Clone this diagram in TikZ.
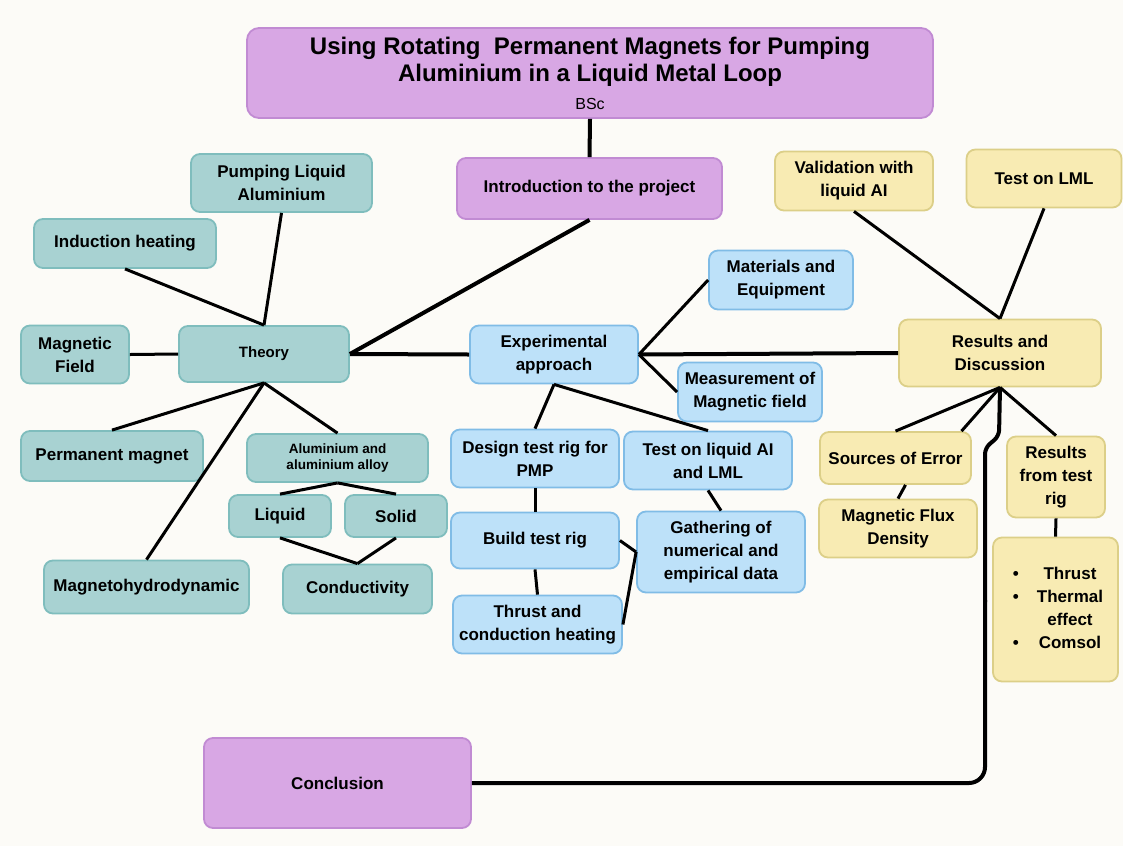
\documentclass[tikz,border=0pt]{standalone}
\usepackage{fontspec}
\setmainfont{Liberation Sans}
\definecolor{bg}{HTML}{FCFBF7}
\definecolor{purpf}{HTML}{D8A7E4}
\definecolor{purpd}{HTML}{C18BD3}
\definecolor{tealf}{HTML}{A8D2D2}
\definecolor{teald}{HTML}{7FBDBD}
\definecolor{bluef}{HTML}{BDE1F9}
\definecolor{blued}{HTML}{80BCE6}
\definecolor{yelf}{HTML}{F8EBB3}
\definecolor{yeld}{HTML}{DCCF88}
\begin{document}
\begin{tikzpicture}[x=1pt,y=-1pt,
  sz/.style 2 args={minimum width=#1pt,minimum height=#2pt},
  base/.style={draw, rounded corners=9pt, line width=1.8pt, align=center, inner sep=0pt,
    font=\fontsize{17}{23}\selectfont\bfseries},
  purpbox/.style={base, fill=purpf, draw=purpd},
  tealbox/.style={base, fill=tealf, draw=teald},
  bluebox/.style={base, fill=bluef, draw=blued},
  yelbox/.style={base, fill=yelf, draw=yeld},
  conn/.style={line width=3pt, black},
  mainconn/.style={line width=4pt, black}]
\useasboundingbox (0,0) rectangle (1123,846);
\fill[bg] (0,0) rectangle (1123,846);

% purple
\node[purpbox, sz={686}{90}, rounded corners=12pt, font=\fontsize{24}{27}\selectfont\bfseries] (title) at (590,73)
  {Using Rotating~ Permanent Magnets for Pumping\\Aluminium in a Liquid Metal Loop\\[1pt]{\fontsize{16}{20}\selectfont\mdseries BSc}};
\node[purpbox, sz={265}{61}] (intro) at (589.5,188.5) {Introduction to the project};
\node[purpbox, sz={267}{90}] (conc) at (337.5,783) {Conclusion};

% teal
\node[tealbox, sz={181}{58}] (pump) at (281.5,183) {Pumping Liquid\\Aluminium};
\node[tealbox, sz={182}{49}] (ind) at (125,243.5) {Induction heating};
\node[tealbox, sz={108}{58}] (mf) at (75,354.5) {Magnetic\\Field};
\node[tealbox, sz={170}{56}, font=\fontsize{15}{19}\selectfont\bfseries] (theory) at (264,354) {Theory};
\node[tealbox, sz={182}{50}] (pm) at (112,456) {Permanent magnet};
\node[tealbox, sz={181}{48}, font=\fontsize{13.5}{16}\selectfont\bfseries] (alu) at (337.5,458) {Aluminium and\\aluminium alloy};
\node[tealbox, sz={102}{42}] (liq) at (280,516) {Liquid};
\node[tealbox, sz={102}{42}] (sol) at (396,516) {Solid};
\node[tealbox, sz={205}{53}] (mhd) at (146.5,587) {Magnetohydrodynamic};
\node[tealbox, sz={149}{49}] (cond) at (357.5,589) {Conductivity};

% blue
\node[bluebox, sz={144}{59}] (mat) at (781,280) {Materials and\\Equipment};
\node[bluebox, sz={168}{58}] (exp) at (554,354.5) {Experimental\\approach};
\node[bluebox, sz={144}{59}] (meas) at (750,392) {Measurement of\\Magnetic field};
\node[bluebox, sz={168}{58}] (design) at (535,458.5) {Design test rig for\\PMP};
\node[bluebox, sz={168}{58}] (testl) at (708,460.5) {Test on liquid AI\\and LML};
\node[bluebox, sz={168}{56}] (build) at (535,540.5) {Build test rig};
\node[bluebox, sz={168}{81}] (gath) at (721,552) {Gathering of\\numerical and\\empirical data};
\node[bluebox, sz={169}{58}] (thr) at (537.5,624.5) {Thrust and\\conduction heating};

% yellow
\node[yelbox, sz={158}{59}] (val) at (854,181) {Validation with\\liquid AI};
\node[yelbox, sz={155}{58}] (lml) at (1044,178.5) {Test on LML};
\node[yelbox, sz={202}{67}] (res) at (1000,353) {Results and\\Discussion};
\node[yelbox, sz={151}{52}] (src) at (895.5,458) {Sources of Error};
\node[yelbox, sz={158}{58}] (mfd) at (898,528.5) {Magnetic Flux\\Density};
\node[yelbox, sz={98}{81}] (rft) at (1056,477) {Results\\from test\\rig};
\node[yelbox, sz={125}{144}] (bul) at (1055.5,609.5)
  {\begin{tabular}{@{}l@{\hskip 18pt}c@{\hskip -5pt}}
   \textbullet & Thrust\\
   \textbullet & Thermal\\
               & effect\\
   \textbullet & Comsol
   \end{tabular}};

% connectors
\draw[mainconn] (title.south) -- (intro.north);
\draw[mainconn] (intro.south) -- (theory.east);
\draw[mainconn] (theory.east) -- (exp.west);
\draw[mainconn] (exp.east) -- (res.west);

\draw[conn] (theory.north) -- (pump.south);
\draw[conn] (theory.north) -- (ind.south);
\draw[conn] (mf.east) -- (theory.west);
\draw[conn] (theory.south) -- (pm.north);
\draw[conn] (theory.south) -- (mhd.north);
\draw[conn] (theory.south) -- (alu.north);
\draw[conn] (alu.south) -- (liq.north);
\draw[conn] (alu.south) -- (sol.north);
\draw[conn] (liq.south) -- (cond.north);
\draw[conn] (sol.south) -- (cond.north);

\draw[conn] (exp.east) -- (mat.west);
\draw[conn] (exp.east) -- (meas.west);
\draw[conn] (exp.south) -- (design.north);
\draw[conn] (exp.south) -- (testl.north);
\draw[conn] (design.south) -- (build.north);
\draw[conn] (testl.south) -- (gath.north);
\draw[conn] (build.south) -- (thr.north);
\draw[conn] (build.east) -- (gath.west);
\draw[conn] (gath.west) -- (thr.east);

\draw[conn] (val.south) -- (res.north);
\draw[conn] (lml.south) -- (res.north);
\draw[conn] (res.south) -- (src.north);
\draw[conn] (res.south) -- ([xshift=66pt]src.north);
\draw[conn] (res.south) -- (rft.north);
\draw[conn] ([xshift=10pt]src.south) -- (mfd.north);
\draw[conn] (rft.south) -- (bul.north);

\coordinate (c1) at (985,783);
\coordinate (c0) at (985,600);
\coordinate (c2) at (985,448);
\coordinate (c3) at (999,436);
\draw[mainconn, rounded corners=16pt] (conc.east) -- (c1) -- (c0);
\draw[mainconn, rounded corners=6pt] ([yshift=-2pt]c0) -- (c2) -- (c3) -- (res.south);
\end{tikzpicture}
\end{document}
